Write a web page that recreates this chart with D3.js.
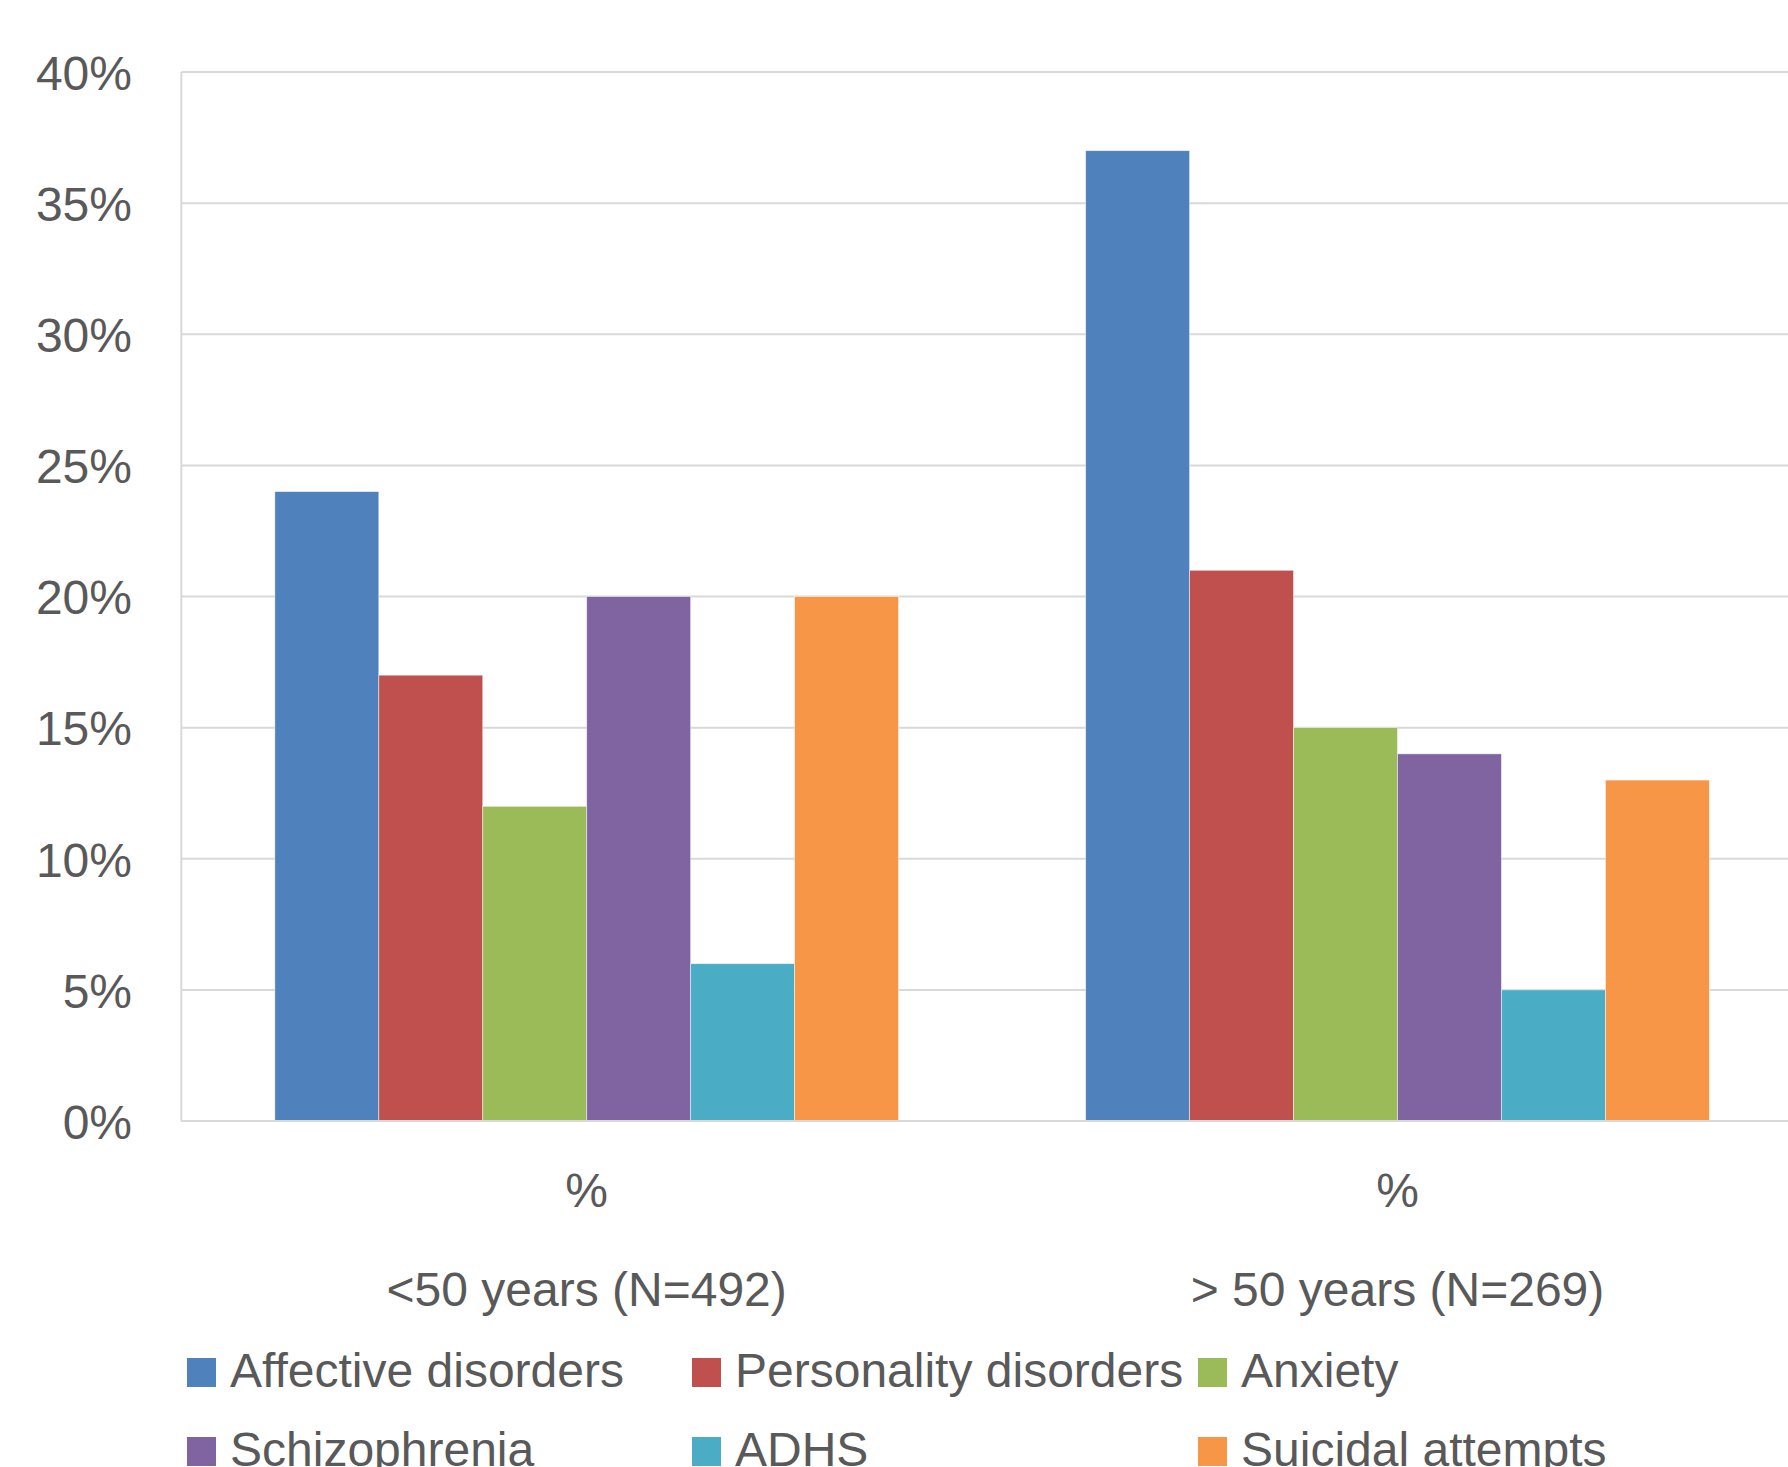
<!DOCTYPE html>
<html><head><meta charset="utf-8">
<script src="https://cdn.jsdelivr.net/npm/d3@7"></script>
<style>body{margin:0;background:#fff;overflow:hidden}text{font-family:"Liberation Sans",Arial,sans-serif;fill:#595959}</style>
</head><body><svg id="c" width="1788" height="1467"></svg>
<script>
const groups = ["<50 years (N=492)", "> 50 years (N=269)"];
const innerLabels = ["%", "%"];
const seriesNames = ["Affective disorders","Personality disorders","Anxiety","Schizophrenia","ADHS","Suicidal attempts"];
const seriesColors = ["#4F81BD","#C0504D","#9BBB59","#8064A2","#4BACC6","#F79646"];
const affective = [0.24, 0.37];
const personality = [0.17, 0.21];
const anxiety = [0.12, 0.15];
const schizophrenia = [0.20, 0.14];
const adhs = [0.06, 0.05];
const suicidal = [0.20, 0.13];
const yTicks = [0,0.05,0.10,0.15,0.20,0.25,0.30,0.35,0.40];

(function(){
const seriesValues = [affective, personality, anxiety, schizophrenia, adhs, suicidal];
const svg = d3.select("#c");
const pLeft = 181.3, pTop = 72, pBottom = 1121, step = 810.8;
const x0 = d3.scaleBand().domain(groups).range([pLeft, pLeft + step*groups.length]).paddingInner(0).paddingOuter(0);
const x1 = d3.scaleBand().domain(seriesNames).range([0, step/1.3]);
const y = d3.scaleLinear().domain([0,0.4]).range([pBottom, pTop]);
const fs = 48;

svg.append("g").selectAll("line").data(yTicks).join("line")
  .attr("x1", pLeft).attr("x2", 1788).attr("y1", d=>y(d)).attr("y2", d=>y(d))
  .attr("stroke", "#d9d9d9").attr("stroke-width", 2);
svg.append("line").attr("x1", pLeft).attr("x2", pLeft).attr("y1", pTop).attr("y2", pBottom)
  .attr("stroke", "#d9d9d9").attr("stroke-width", 2);

const yAxis = d3.axisLeft(y).tickValues(yTicks).tickFormat(d3.format(".0%")).tickSize(0).tickPadding(0);
const ya = svg.append("g").attr("transform", `translate(132,0)`).call(yAxis);
ya.select(".domain").remove();
ya.selectAll("text").attr("font-size", fs).attr("font-family", null).style("fill","#595959").attr("dy", "0.36em");

const gOff = (step - step/1.3)/2;
const gs = svg.append("g").selectAll("g").data(groups).join("g")
  .attr("transform", d => `translate(${x0(d)+gOff},0)`);
gs.selectAll("rect").data((g,gi) => seriesNames.map((s,si)=>({s, v: seriesValues[si][gi], c: seriesColors[si]})))
  .join("rect")
  .attr("x", d => x1(d.s)).attr("width", x1.bandwidth())
  .attr("y", d => y(d.v)).attr("height", d => pBottom - y(d.v))
  .attr("fill", d => d.c).attr("stroke", "#ffffff").attr("stroke-width", 0.8).attr("stroke-opacity", 0.6);

svg.append("line").attr("x1", pLeft).attr("x2", 1788).attr("y1", pBottom).attr("y2", pBottom)
  .attr("stroke", "#d9d9d9").attr("stroke-width", 2);

svg.append("g").selectAll("text").data(groups).join("text")
  .attr("x", d => x0(d) + step/2).attr("y", 1207).attr("text-anchor","middle").attr("font-size", fs)
  .text((d,i) => innerLabels[i]);
svg.append("g").selectAll("text").data(groups).join("text")
  .attr("x", d => x0(d) + step/2).attr("y", 1306).attr("text-anchor","middle").attr("font-size", fs)
  .text(d => d);

const colX = [187, 692, 1198];
const rowY = [1358, 1437];
const lg = svg.append("g").selectAll("g").data(seriesNames).join("g")
  .attr("transform", (d,i) => `translate(${colX[i%3]},${rowY[Math.floor(i/3)]})`);
lg.append("rect").attr("width", 29).attr("height", 29).attr("fill", (d,i) => seriesColors[i]);
lg.append("text").attr("x", 43).attr("y", 29).attr("font-size", fs).text(d => d);
})();
</script></body></html>
